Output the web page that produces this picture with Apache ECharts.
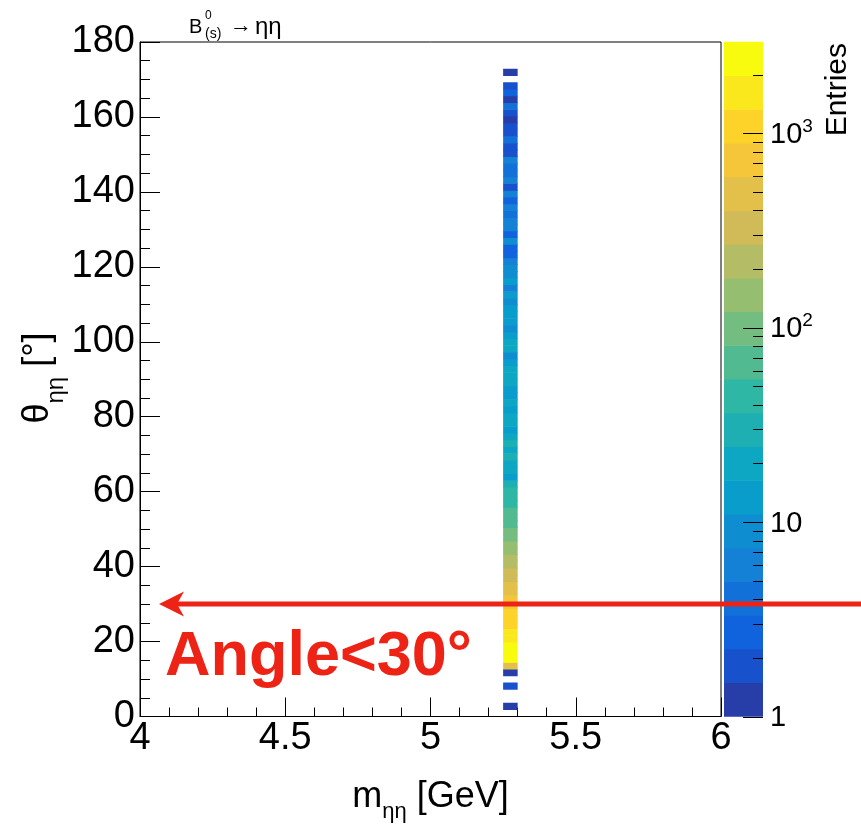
<!DOCTYPE html>
<html><head><meta charset="utf-8">
<script src="https://cdn.jsdelivr.net/npm/echarts@6/dist/echarts.min.js"></script>
<style>html,body{margin:0;padding:0;background:#fff}#c{width:861px;height:830px}</style>
</head><body><div id="c"></div>
<script>
// ---- data ----
const massBin = [5.25, 5.30];          // GeV, the single filled mass bin
const thetaBinWidth = 1.8;             // degrees
const thetaLow = [1.8, 7.2, 10.8, 12.6, 14.4, 16.2, 18, 19.8, 21.6, 23.4, 25.2, 27, 28.8, 30.6, 32.4, 34.2, 36, 37.8, 39.6, 41.4,
  43.2, 45, 46.8, 48.6, 50.4, 52.2, 54, 55.8, 57.6, 59.4, 61.2, 63, 64.8, 66.6, 68.4, 70.2, 72, 73.8, 75.6, 77.4,
  79.2, 81, 82.8, 84.6, 86.4, 88.2, 90, 91.8, 93.6, 95.4, 97.2, 99, 100.8, 102.6, 104.4, 106.2, 108, 109.8, 111.6, 113.4,
  115.2, 117, 118.8, 120.6, 122.4, 124.2, 126, 127.8, 129.6, 131.4, 133.2, 135, 136.8, 138.6, 140.4, 142.2, 144, 145.8, 147.6, 149.4,
  151.2, 153, 154.8, 156.6, 158.4, 160.2, 162, 163.8, 165.6, 167.4, 171];
const entries = [1, 2, 1, 450, 2400, 2600, 2500, 1600, 1600, 1100, 1080, 1050, 730, 720, 490, 480, 330, 320, 220, 215,
  150, 145, 99, 97, 66, 65, 62, 44, 43, 42, 30, 13, 20, 20, 30, 20, 30, 20, 13, 20,
  20, 13, 20, 13, 13, 20, 20, 20, 13, 9, 20, 20, 13, 9, 13, 13, 13, 9, 13, 6,
  13, 9, 9, 6, 3, 3, 9, 3, 6, 6, 4, 6, 3, 6, 2, 6, 4, 4, 6, 2,
  2, 4, 2, 2, 1, 2, 4, 1, 3, 2, 1];
const zMin = 1, zMax = 2940;
const nContours = 20;
const zLabelValues = [1, 10, 100, 1000];
const zMinorTickValues = [2,3,4,5,6,7,8,9,20,30,40,50,60,70,80,90,200,300,400,500,600,700,800,900,2000];
const angleCut = 30;

// ---- palette (ROOT kBird) ----
const birdStops = [0,0.125,0.25,0.375,0.5,0.625,0.75,0.875,1];
const birdR = [0.2082,0.0592,0.0780,0.0232,0.1802,0.5301,0.8186,0.9956,0.9764];
const birdG = [0.1664,0.3599,0.5041,0.6419,0.7178,0.7492,0.7328,0.7862,0.9832];
const birdB = [0.5293,0.8684,0.8385,0.7914,0.6425,0.4662,0.3499,0.1968,0.0539];
function bird(t){
  let i = 0; while (i < 7 && t > birdStops[i+1]) i++;
  const f = (t - birdStops[i]) / (birdStops[i+1] - birdStops[i]);
  const c = [birdR, birdG, birdB].map(a => Math.round(255 * (a[i] + (a[i+1]-a[i]) * f)));
  return 'rgb(' + c.join(',') + ')';
}
const bandColors = [];
for (let k = 0; k < nContours; k++) {
  const idx = Math.min(254, Math.floor((k + 0.99) * 255 / nContours));
  bandColors.push(bird(idx / 254));
}
const Lz = Math.log10(zMax / zMin);
function bandOf(v){ return Math.max(0, Math.min(nContours-1, Math.floor(Math.log10(v / zMin) / Lz * nContours + 1e-9))); }

const cellData = thetaLow.map((t, i) => [massBin[0], massBin[1], t, t + thetaBinWidth, entries[i]]);
const bandData = [];
for (let k = 0; k < nContours; k++) bandData.push([0, 1, zMin * Math.pow(10, Lz * k / nContours), zMin * Math.pow(10, Lz * (k+1) / nContours), k]);
const zTickData = zLabelValues.map(v => [1, v, 20]).concat(zMinorTickValues.map(v => [1, v, 10]));

const FF = '"Liberation Sans", Arial, Helvetica, sans-serif';
const RED = 'rgb(237,35,22)';
const chart = echarts.init(document.getElementById('c'), null, {renderer: 'canvas'});

const option = {
  animation: false,
  backgroundColor: '#fff',
  grid: [
    {left: 140, top: 42, width: 581, height: 674.5, show: true, borderColor: '#000', borderWidth: 1, backgroundColor: 'transparent', containLabel: false, outerBoundsMode: 'none'},
    {left: 724, top: 42, width: 39, height: 674.5, show: false, containLabel: false, outerBoundsMode: 'none'}
  ],
  xAxis: [
    {gridIndex: 0, type: 'value', min: 4, max: 6, interval: 0.5,
     axisLine: {show: true, onZero: false, lineStyle: {color: '#000', width: 1}},
     axisTick: {show: true, inside: true, length: 19, lineStyle: {color: '#000', width: 1}},
     minorTick: {show: true, splitNumber: 5, length: 9, lineStyle: {color: '#000', width: 1}},
     axisLabel: {color: '#000', fontSize: 38, fontFamily: FF, margin: 3},
     splitLine: {show: false}, minorSplitLine: {show: false}},
    {gridIndex: 1, type: 'value', min: 0, max: 1, show: false}
  ],
  yAxis: [
    {gridIndex: 0, type: 'value', min: 0, max: 180, interval: 20,
     axisLine: {show: true, onZero: false, lineStyle: {color: '#000', width: 1}},
     axisTick: {show: true, inside: true, length: 20, lineStyle: {color: '#000', width: 1}},
     minorTick: {show: true, splitNumber: 4, length: 10, lineStyle: {color: '#000', width: 1}},
     axisLabel: {color: '#000', fontSize: 38, fontFamily: FF, margin: 5},
     splitLine: {show: false}, minorSplitLine: {show: false}},
    {gridIndex: 1, type: 'log', logBase: 10, min: zMin, max: zMax, position: 'right',
     axisLine: {show: false},
     axisTick: {show: false},
     axisLabel: {show: true, customValues: zLabelValues, margin: 7,
       formatter: v => { const e = Math.round(Math.log10(v)); if (e === 0) return '{b|1}'; if (e === 1) return '{b|10}'; return '{b|10}{sup|' + e + '}'; },
       rich: {b: {fontSize: 29, fontFamily: FF, color: '#000', lineHeight: 32, verticalAlign: 'bottom'},
              sup: {fontSize: 19, fontFamily: FF, color: '#000', lineHeight: 20, verticalAlign: 'top'}}},
     splitLine: {show: false}}
  ],
  series: [
    {type: 'custom', xAxisIndex: 0, yAxisIndex: 0, data: cellData, encode: {x: [0, 1], y: [2, 3]}, clip: true,
     renderItem: function(params, api){
       const p0 = api.coord([api.value(0), api.value(2)]);
       const p1 = api.coord([api.value(1), api.value(3)]);
       return {type: 'rect', shape: {x: p0[0], y: p1[1] - 0.3, width: p1[0] - p0[0], height: p0[1] - p1[1] + 0.6},
               style: {fill: bandColors[bandOf(api.value(4))]}};
     }},
    {type: 'custom', xAxisIndex: 1, yAxisIndex: 1, data: bandData, encode: {x: [0, 1], y: [2, 3]},
     renderItem: function(params, api){
       const p0 = api.coord([api.value(0), api.value(2)]);
       const p1 = api.coord([api.value(1), api.value(3)]);
       return {type: 'rect', shape: {x: p0[0], y: p1[1] - 0.3, width: p1[0] - p0[0], height: p0[1] - p1[1] + 0.6},
               style: {fill: bandColors[api.value(4)]}};
     }},
    {type: 'custom', xAxisIndex: 1, yAxisIndex: 1, data: zTickData, encode: {x: 0, y: 1}, z: 5,
     renderItem: function(params, api){
       const p = api.coord([api.value(0), api.value(1)]);
       const y = Math.round(p[1]) + 0.5;
       return {type: 'line', shape: {x1: p[0], y1: y, x2: p[0] - api.value(2), y2: y},
               style: {stroke: '#000', lineWidth: 1}};
     }}
  ]
};
chart.setOption(option);

const y30 = chart.convertToPixel({xAxisIndex: 0, yAxisIndex: 0}, [4, angleCut])[1];
const xTip = 159;
chart.setOption({
  graphic: [
    // top title
    {type: 'text', x: 189, y: 27, style: {text: 'B', fontSize: 20, fontFamily: FF, fill: '#000', align: 'left', verticalAlign: 'middle'}},
    {type: 'text', x: 205, y: 16, style: {text: '0', fontSize: 12, fontFamily: FF, fill: '#000', align: 'left', verticalAlign: 'middle'}},
    {type: 'text', x: 205, y: 34.5, style: {text: '(s)', fontSize: 14, fontFamily: FF, fill: '#000', align: 'left', verticalAlign: 'middle'}},
    {type: 'text', x: 230, y: 26, style: {text: '\u2192', fontSize: 22, fontFamily: FF, fill: '#000', align: 'left', verticalAlign: 'middle'}},
    {type: 'text', x: 255, y: 27, style: {text: '\u03b7\u03b7', fontSize: 24, fontFamily: FF, fill: '#000', align: 'left', verticalAlign: 'middle'}},
    // x title
    {type: 'text', x: 430.5, y: 800.8, style: {text: '{m|m}{s|\u03b7\u03b7}{m| [GeV]}', align: 'center', verticalAlign: 'middle',
      rich: {m: {fontSize: 36, fontFamily: FF, fill: '#000', lineHeight: 44, verticalAlign: 'top'},
             s: {fontSize: 22, fontFamily: FF, fill: '#000', lineHeight: 22, verticalAlign: 'bottom'}}}},
    // y title
    {type: 'text', x: 44, y: 378, rotation: Math.PI / 2, style: {text: '{m|\u03b8}{s|\u03b7\u03b7}{m| [\u00b0]}', align: 'center', verticalAlign: 'middle',
      rich: {m: {fontSize: 36, fontFamily: FF, fill: '#000', lineHeight: 48, verticalAlign: 'top'},
             s: {fontSize: 24, fontFamily: FF, fill: '#000', lineHeight: 24, verticalAlign: 'bottom'}}}},
    // colour bar title
    {type: 'text', x: 838, y: 43, rotation: Math.PI / 2, style: {text: 'Entries', fontSize: 30, fontFamily: FF, fill: '#000', align: 'right', verticalAlign: 'middle'}},
    // annotation arrow
    {type: 'line', shape: {x1: 861, y1: y30, x2: xTip + 12, y2: y30}, style: {stroke: RED, lineWidth: 5}, z: 100},
    {type: 'polygon', shape: {points: [[xTip, y30], [xTip + 25, y30 - 12.5], [xTip + 18, y30], [xTip + 25, y30 + 12.5]]}, style: {fill: RED}, z: 100},
    {type: 'text', x: 165, y: 657.5, style: {text: 'Angle<30\u00b0', fontSize: 63, fontWeight: 'bold', fontFamily: FF, fill: RED, align: 'left', verticalAlign: 'middle'}, z: 100}
  ]
});
</script>
</body></html>
